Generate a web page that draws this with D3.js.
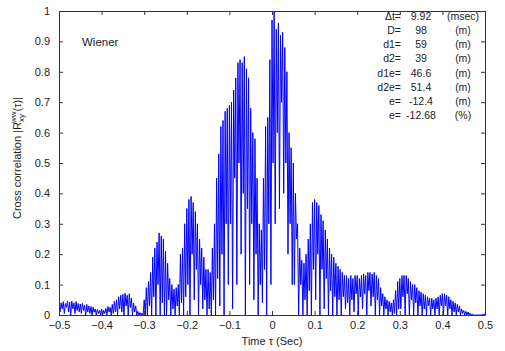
<!DOCTYPE html>
<html>
<head>
<meta charset="utf-8">
<script src="https://cdn.jsdelivr.net/npm/d3@7"></script>
<style>
  body { margin: 0; background: #fff; }
  text { font-family: "Liberation Sans", Arial, sans-serif; fill: #222; }
</style>
</head>
<body>
<svg id="chart" width="505" height="351"></svg>
<script>
// time axis: peaks sit at tStart + i*tStep, troughs half a step later
const tStart = -0.5, tStep = 0.005;

const xTicks = [-0.5, -0.4, -0.3, -0.2, -0.1, 0, 0.1, 0.2, 0.3, 0.4, 0.5];
const yTicks = [0, 0.1, 0.2, 0.3, 0.4, 0.5, 0.6, 0.7, 0.8, 0.9, 1];

// upper swing of the correlation
const peaks = [
  0.045, 0.04, 0.044, 0.038, 0.045, 0.042, 0.046, 0.04, 0.044, 0.038,
  0.036, 0.038, 0.032, 0.035, 0.03, 0.028, 0.026, 0.02, 0.018, 0.016,
  0.02, 0.015, 0.022, 0.028, 0.025, 0.035, 0.045, 0.05, 0.06, 0.065,
  0.068, 0.072, 0.065, 0.07, 0.055, 0.04, 0.03, 0.012, 0.008, 0.006,
  0.05, 0.09, 0.11, 0.14, 0.19, 0.22, 0.24, 0.27, 0.26, 0.25,
  0.21, 0.17, 0.12, 0.1, 0.085, 0.09, 0.1, 0.2, 0.22, 0.3,
  0.35, 0.38, 0.39, 0.37, 0.34, 0.3, 0.25, 0.22, 0.19, 0.15,
  0.15, 0.14, 0.22, 0.3, 0.45, 0.53, 0.62, 0.64, 0.67, 0.68,
  0.69, 0.7, 0.74, 0.78, 0.83, 0.84, 0.83, 0.85, 0.81, 0.78,
  0.68, 0.6, 0.58, 0.45, 0.3, 0.28, 0.45, 0.62, 0.65, 0.84,
  0.97, 1.0, 0.94, 0.96, 0.92, 0.93, 0.88, 0.8, 0.6, 0.55,
  0.5, 0.4, 0.3, 0.22, 0.18, 0.17, 0.2, 0.25, 0.3, 0.37,
  0.38, 0.37, 0.36, 0.33, 0.31, 0.28, 0.25, 0.22, 0.2, 0.19,
  0.17, 0.16, 0.15, 0.14, 0.13, 0.13, 0.12, 0.13, 0.12, 0.13,
  0.13, 0.12, 0.13, 0.135, 0.13, 0.14, 0.14, 0.135, 0.14, 0.13,
  0.12, 0.09, 0.07, 0.06, 0.05, 0.045, 0.04, 0.05, 0.08, 0.11,
  0.12, 0.13, 0.13, 0.13, 0.12, 0.11, 0.1, 0.1, 0.09, 0.08,
  0.075, 0.07, 0.065, 0.06, 0.055, 0.055, 0.05, 0.055, 0.06, 0.065,
  0.07, 0.07, 0.065, 0.06, 0.05, 0.045, 0.04, 0.035, 0.03, 0.02,
  0.015, 0.012, 0.01, 0.006, 0.003, 0, 0, 0, 0, 0.002, 0.005
];

// lower swing between each pair of peaks
const troughs = [
  0.01, 0.02, 0.005, 0.025, 0.01, 0, 0.02, 0.005, 0.015, 0.01,
  0.005, 0.015, 0, 0.01, 0.005, 0, 0.01, 0, 0.005, 0,
  0, 0.005, 0, 0.01, 0, 0.005, 0.01, 0, 0.02, 0.01,
  0, 0.03, 0, 0.025, 0, 0.01, 0, 0, 0, 0,
  0, 0, 0.03, 0, 0.06, 0, 0.1, 0, 0.04, 0,
  0, 0.05, 0, 0.02, 0, 0.03, 0, 0.04, 0, 0.06,
  0.1, 0, 0.2, 0.05, 0.15, 0, 0.1, 0.02, 0.05, 0,
  0.02, 0, 0.05, 0, 0.12, 0.03, 0.2, 0, 0.3, 0.1,
  0.3, 0.02, 0.45, 0.1, 0.5, 0.2, 0.4, 0, 0.35, 0.1,
  0.3, 0.05, 0.2, 0, 0.1, 0.04, 0.15, 0, 0.3, 0.1,
  0.5, 0.3, 0.6, 0.35, 0.7, 0.4, 0.5, 0.2, 0.3, 0.1,
  0.1, 0.25, 0, 0.1, 0, 0.05, 0, 0.08, 0, 0.15,
  0.05, 0.2, 0, 0.15, 0.02, 0.12, 0, 0.08, 0, 0.06,
  0, 0.05, 0, 0.06, 0.02, 0.04, 0, 0.05, 0.01, 0.07,
  0, 0.06, 0.02, 0.07, 0, 0.08, 0.03, 0.06, 0, 0.05,
  0, 0.03, 0, 0.02, 0, 0.01, 0, 0.005, 0, 0.02,
  0.02, 0.06, 0, 0.07, 0, 0.05, 0, 0.04, 0, 0.03,
  0, 0.02, 0, 0.03, 0, 0.02, 0, 0.02, 0, 0.03,
  0, 0.03, 0, 0.02, 0, 0.01, 0, 0.01, 0, 0.005,
  0, 0, 0, 0, 0, 0, 0, 0, 0, 0
];

const infoLabels = ["\u0394t=", "D=", "d1=", "d2=", "d1e=", "d2e=", "e=", "e="];
const infoValues = ["9.92", "98", "59", "39", "46.6", "51.4", "-12.4", "-12.68"];
const infoUnits = ["(msec)", "(m)", "(m)", "(m)", "(m)", "(m)", "(m)", "(%)"];

const margin = {top: 11, right: 20, bottom: 36, left: 59};
const width = 426, height = 304;

const svg = d3.select("#chart");
const g = svg.append("g")
  .attr("transform", `translate(${margin.left},${margin.top})`);

const x = d3.scaleLinear().domain([-0.5, 0.5]).range([0, width]);
const y = d3.scaleLinear().domain([0, 1]).range([height, 0]);

// interleave peaks and troughs into one trace
const pts = [];
peaks.forEach(function(v, i) {
  pts.push({t: tStart + i * tStep, v: v});
  if (i < troughs.length) pts.push({t: tStart + (i + 0.5) * tStep, v: troughs[i]});
});

g.append("clipPath").attr("id", "clip")
  .append("rect").attr("width", width).attr("height", height);

g.append("path")
  .datum(pts)
  .attr("clip-path", "url(#clip)")
  .attr("fill", "none")
  .attr("stroke", "#0000ff")
  .attr("stroke-width", 1)
  .attr("d", d3.line().x(d => x(d.t)).y(d => y(d.v)));

const fmt = d => d === 0 ? "0" : (d === 1 ? "1" : d3.format(".1f")(d));

// axes, MATLAB style: box with inward ticks on all sides
const axB = g.append("g").attr("transform", `translate(0,${height})`)
  .call(d3.axisBottom(x).tickValues(xTicks).tickFormat(fmt).tickSizeInner(-4).tickSizeOuter(0).tickPadding(6));
const axT = g.append("g")
  .call(d3.axisTop(x).tickValues(xTicks).tickFormat("").tickSizeInner(-4).tickSizeOuter(0));
const axL = g.append("g")
  .call(d3.axisLeft(y).tickValues(yTicks).tickFormat(fmt).tickSizeInner(-4).tickSizeOuter(0).tickPadding(9));
const axR = g.append("g").attr("transform", `translate(${width},0)`)
  .call(d3.axisRight(y).tickValues(yTicks).tickFormat("").tickSizeInner(-4).tickSizeOuter(0));

[axB, axT, axL, axR].forEach(function(a) {
  a.selectAll("path, line").attr("stroke", "#333");
  a.selectAll("text").attr("font-size", 11).attr("fill", "#222")
    .style("font-family", '"Liberation Sans", Arial, sans-serif');
});

g.append("text").attr("x", 23).attr("y", 35).attr("font-size", 11.5).text("Wiener");

// info block, top right
const info = g.append("g");
infoLabels.forEach(function(lab, i) {
  const yy = 9 + i * 14.15;
  info.append("text").attr("x", 342).attr("y", yy).attr("text-anchor", "end")
    .attr("font-size", 10.5).text(lab);
  info.append("text").attr("x", 362).attr("y", yy).attr("text-anchor", "middle")
    .attr("font-size", 10.5).text(infoValues[i]);
  info.append("text").attr("x", 404).attr("y", yy).attr("text-anchor", "middle")
    .attr("font-size", 10.5).text(infoUnits[i]);
});

// axis titles
svg.append("text")
  .attr("x", 272).attr("y", 345).attr("text-anchor", "middle")
  .attr("font-size", 11).text("Time \u03c4 (Sec)");

const yl = svg.append("text")
  .attr("transform", "translate(21,158) rotate(-90)")
  .attr("text-anchor", "middle").attr("font-size", 11);
yl.append("tspan").text("Cross correlation |R");
yl.append("tspan").attr("font-size", 8).attr("dy", 3).text("xy");
yl.append("tspan").attr("font-size", 8).attr("dy", -8).attr("dx", -9).text("ww");
yl.append("tspan").attr("dy", 5).text("(\u03c4)|");
</script>
</body>
</html>
